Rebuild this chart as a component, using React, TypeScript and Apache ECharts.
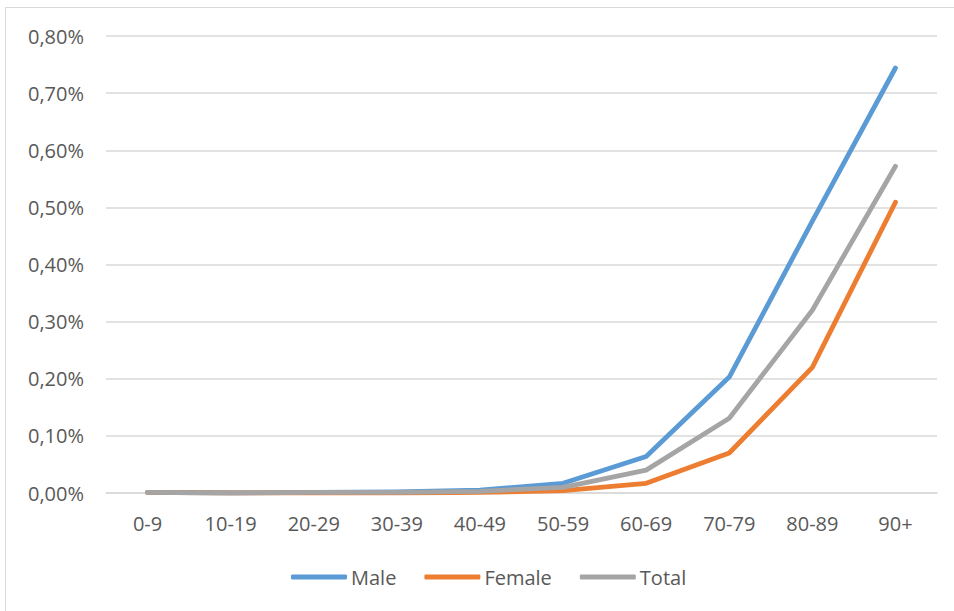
import React, { useEffect, useRef } from "react";
import * as echarts from "echarts";

const categories = ["0-9", "10-19", "20-29", "30-39", "40-49", "50-59", "60-69", "70-79", "80-89", "90+"];
const maleValues = [0.001, 0.0, 0.001, 0.002, 0.005, 0.017, 0.064, 0.203, 0.476, 0.744];
const femaleValues = [0.001, 0.0, 0.0, 0.0, 0.001, 0.004, 0.017, 0.07, 0.22, 0.509];
const totalValues = [0.001, 0.0, 0.001, 0.001, 0.003, 0.01, 0.04, 0.131, 0.32, 0.572];
const seriesNames = ["Male", "Female", "Total"];
const seriesColors = ["#5B9BD5", "#ED7D31", "#A5A5A5"];

const FONT = "'Open Sans', 'Liberation Sans', sans-serif";

export default function App() {
  const ref = useRef<HTMLDivElement>(null);
  useEffect(() => {
    if (!ref.current) return;
    const chart = echarts.init(ref.current, null, { renderer: "svg" });
    const data = [maleValues, femaleValues, totalValues];
    chart.setOption({
      animation: false,
      grid: { left: 106, right: 17, top: 36, bottom: 118, containLabel: false },
      legend: {
        bottom: 19,
        left: 286,
        itemWidth: 56,
        itemHeight: 5,
        itemGap: 28,
        icon: "roundRect",
        textStyle: { color: "#595959", fontSize: 20, fontFamily: FONT, padding: [0, 0, 0, -1] },
        data: seriesNames,
      },
      xAxis: {
        type: "category",
        data: categories,
        boundaryGap: true,
        axisLine: { show: true, lineStyle: { color: "#D9D9D9", width: 1.5 } },
        axisTick: { show: false },
        axisLabel: { color: "#595959", fontSize: 20, fontFamily: FONT, margin: 20 },
      },
      yAxis: {
        type: "value",
        min: 0,
        max: 0.8,
        interval: 0.1,
        axisLine: { show: false },
        axisTick: { show: false },
        splitLine: { lineStyle: { color: "#D9D9D9", width: 1.5 } },
        axisLabel: {
          color: "#595959",
          fontSize: 20,
          fontFamily: FONT,
          margin: 22,
          formatter: (v: number) => v.toFixed(2).replace(".", ",") + "%",
        },
      },
      series: seriesNames.map((name, i) => ({
        name,
        type: "line",
        data: data[i],
        symbol: "none",
        color: seriesColors[i],
        lineStyle: { width: 4.8, color: seriesColors[i], cap: "round", join: "round" },
        z: i === 2 ? 3 : 2,
      })),
    });
    return () => chart.dispose();
  }, []);
  return (
    <div
      style={{
        position: "absolute",
        left: 0,
        top: 0,
        width: 954,
        height: 611,
        background: "#fff",
      }}
    >
      <div
        style={{
          position: "absolute",
          left: 5,
          top: 7,
          width: 949,
          height: 604,
          borderLeft: "1.5px solid #D9D9D9",
          borderTop: "1.5px solid #D9D9D9",
          boxSizing: "border-box",
        }}
      />
      <div ref={ref} style={{ position: "absolute", left: 0, top: 0, width: 954, height: 611 }} />
    </div>
  );
}
